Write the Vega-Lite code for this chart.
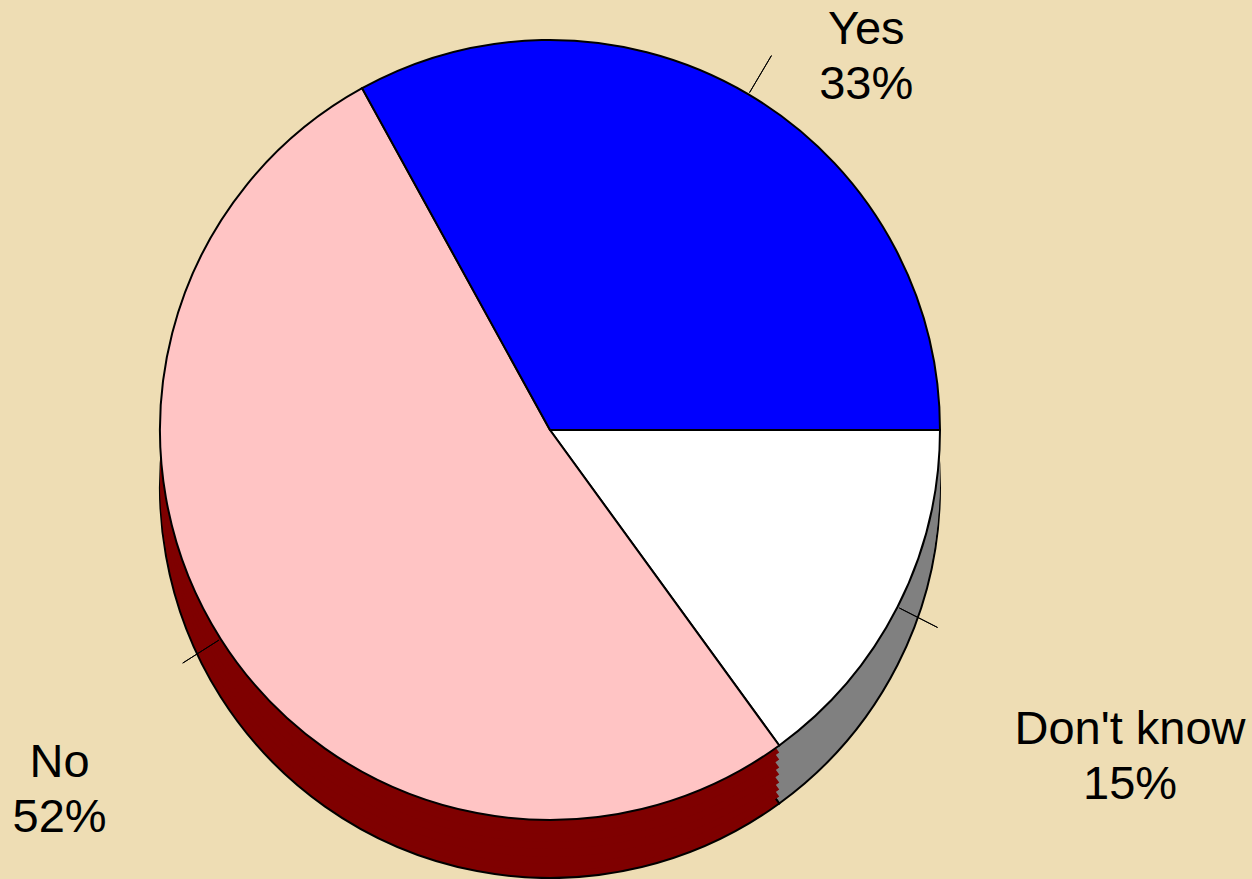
{
  "$schema": "https://vega.github.io/schema/vega-lite/v6.json",
  "autosize": {"type": "none"},
  "width": 1100,
  "height": 860,
  "padding": {"left": 0, "right": 152, "top": 0, "bottom": 19},
  "background": "#EEDDB4",
  "config": {"view": {"stroke": null}},
  "data": {
    "values": [
      {"answer": "Don't know", "pct": 15, "order": 1},
      {"answer": "No", "pct": 52, "order": 2},
      {"answer": "Yes", "pct": 33, "order": 3}
    ]
  },
  "transform": [
    {"stack": "pct", "groupby": [], "sort": [{"field": "order", "order": "ascending"}], "as": ["s0", "s1"]},
    {"calculate": "(datum.s0 + datum.s1) / 2", "as": "mid"},
    {"calculate": "[datum.answer, datum.pct + '%']", "as": "label"}
  ],
  "encoding": {
    "theta": {"field": "s0", "type": "quantitative", "stack": null, "scale": {"domain": [0, 100], "range": [1.5708, 7.854]}},
    "theta2": {"field": "s1"}
  },
  "layer": [
    {
      "mark": {"type": "arc", "radius": 390, "yOffset": 58, "stroke": "black", "strokeWidth": 2},
      "encoding": {
        "color": {"field": "answer", "type": "nominal", "legend": null,
          "scale": {"domain": ["Yes", "No", "Don't know"], "range": ["#00007F", "#7F0000", "#808080"]}}
      }
    },
    {"mark": {"type": "arc", "radius": 390, "yOffset": 51}, "encoding": {"color": {"field": "answer", "type": "nominal", "legend": null}}},
    {"mark": {"type": "arc", "radius": 390, "yOffset": 44}, "encoding": {"color": {"field": "answer", "type": "nominal", "legend": null}}},
    {"mark": {"type": "arc", "radius": 390, "yOffset": 37}, "encoding": {"color": {"field": "answer", "type": "nominal", "legend": null}}},
    {"mark": {"type": "arc", "radius": 390, "yOffset": 29}, "encoding": {"color": {"field": "answer", "type": "nominal", "legend": null}}},
    {"mark": {"type": "arc", "radius": 390, "yOffset": 22}, "encoding": {"color": {"field": "answer", "type": "nominal", "legend": null}}},
    {"mark": {"type": "arc", "radius": 390, "yOffset": 14}, "encoding": {"color": {"field": "answer", "type": "nominal", "legend": null}}},
    {"mark": {"type": "arc", "radius": 390, "yOffset": 7}, "encoding": {"color": {"field": "answer", "type": "nominal", "legend": null}}},
    {
      "mark": {"type": "arc", "radius": 390, "stroke": "black", "strokeWidth": 2},
      "encoding": {
        "fill": {"field": "answer", "type": "nominal", "legend": null,
          "scale": {"domain": ["Yes", "No", "Don't know"], "range": ["#0000FF", "#FFC4C4", "#FFFFFF"]}}
      }
    },
    {
      "mark": {"type": "arc", "radius": 392, "radius2": 435, "stroke": "black", "strokeWidth": 1, "fill": null},
      "encoding": {
        "theta": {"field": "mid", "type": "quantitative", "stack": null},
        "theta2": {"field": "mid"}
      }
    },
    {
      "mark": {"type": "text", "radius": 468, "dx": 78, "dy": 3, "font": "Liberation Sans", "fontSize": 47, "lineHeight": 55, "baseline": "middle", "align": "center", "color": "black"},
      "encoding": {
        "theta": {"field": "mid", "type": "quantitative", "stack": null},
        "theta2": null,
        "text": {"condition": {"test": "datum.answer === 'Yes'", "field": "label"}, "value": ""}
      }
    },
    {
      "mark": {"type": "text", "radius": 569, "dx": -10, "dy": 28, "font": "Liberation Sans", "fontSize": 47, "lineHeight": 55, "baseline": "middle", "align": "center", "color": "black"},
      "encoding": {
        "theta": {"field": "mid", "type": "quantitative", "stack": null},
        "theta2": null,
        "text": {"condition": {"test": "datum.answer === 'No'", "field": "label"}, "value": ""}
      }
    },
    {
      "mark": {"type": "text", "radius": 651, "dy": 4, "font": "Liberation Sans", "fontSize": 47, "lineHeight": 55, "baseline": "middle", "align": "center", "color": "black"},
      "encoding": {
        "theta": {"field": "mid", "type": "quantitative", "stack": null},
        "theta2": null,
        "text": {"condition": {"test": "datum.answer === \"Don't know\"", "field": "label"}, "value": ""}
      }
    }
  ]
}
